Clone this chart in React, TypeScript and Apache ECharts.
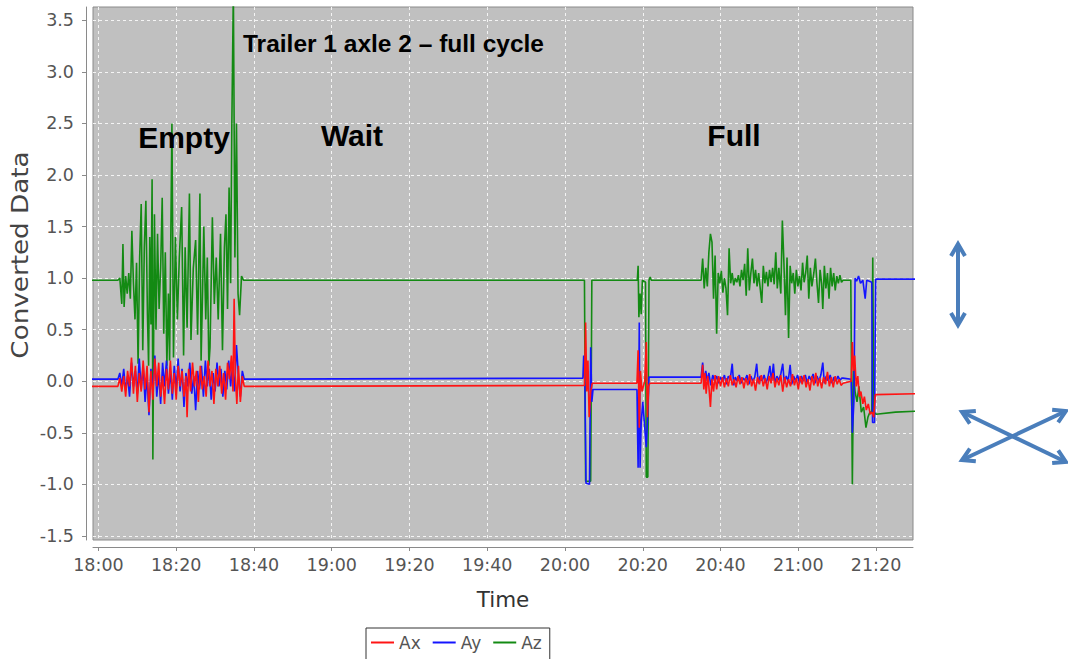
import React, { useEffect, useRef } from "react";
import * as echarts from "echarts";

// Time is stored in minutes after 18:00.
const X_MIN = -1.4;
const X_MAX = 209.5;
const Y_MIN = -1.54;
const Y_MAX = 3.63;

const TIME_TICKS = [0, 20, 40, 60, 80, 100, 120, 140, 160, 180, 200];
const VALUE_TICKS = [-1.5, -1.0, -0.5, 0.0, 0.5, 1.0, 1.5, 2.0, 2.5, 3.0, 3.5];

const SERIES_NAMES = ["Ax", "Ay", "Az"];
const SERIES_COLORS = ["#ff1414", "#1414ff", "#138a13"];

// Ax: [minute, value]
const AX: [number, number][] = [
  [-2, -0.05], [5.0, -0.05], [5.5, 0.03], [6.0, -0.1], [6.5, 0.05], [7.0, -0.15], [7.5, 0.1],
  [8.0, -0.05], [8.5, 0.23], [9.0, -0.12], [9.5, 0.15], [10.0, -0.2], [10.5, 0.08], [11.0, -0.1],
  [11.5, 0.2], [12.0, -0.08], [12.5, 0.15], [13.0, -0.3], [13.5, 0.1], [14.0, -0.18], [14.5, 0.22],
  [15.0, -0.05], [15.5, 0.18], [16.0, -0.15], [16.5, 0.05], [17.0, -0.22], [17.5, 0.12], [18.0, -0.08],
  [18.5, 0.2], [19.0, -0.12], [19.5, 0.08], [20.0, -0.18], [20.5, 0.15], [21.0, -0.05], [21.5, 0.1],
  [22.0, -0.15], [22.5, 0.05], [22.8, -0.35], [23.2, 0.12], [23.7, -0.1], [24.2, 0.18], [24.7, -0.05],
  [25.2, 0.1], [25.7, -0.2], [26.2, 0.15], [26.7, -0.08], [27.2, 0.05], [27.7, -0.15], [28.2, 0.2],
  [28.7, -0.05], [29.2, 0.1], [29.7, -0.22], [30.2, 0.12], [30.7, -0.05], [31.2, 0.15], [31.7, -0.12],
  [32.2, 0.08], [32.7, -0.18], [33.2, 0.18], [33.7, 0.02], [34.2, 0.25], [34.6, -0.1], [34.9, 0.8],
  [35.2, 0.05], [35.6, -0.22], [36.0, 0.15], [36.5, -0.2], [37.0, 0.05], [37.5, -0.05],
  [125.0, -0.04], [125.3, 0.57], [125.6, -0.1], [125.9, 0.2], [126.2, -0.35], [126.6, -0.1], [127.0, -0.02],
  [138.5, -0.02], [138.8, 0.3], [139.1, -0.45], [139.4, 0.1], [139.8, -0.1], [140.5, 0.0], [140.9, 0.38],
  [141.2, -0.35], [141.5, -0.05], [141.8, -0.02],
  [155.0, -0.02], [155.4, 0.16], [155.7, -0.08], [156.0, 0.08], [156.3, -0.12], [156.7, 0.05], [157.0, -0.05],
  [157.4, -0.25], [157.8, 0.02], [158.2, -0.1], [158.6, 0.06], [159.0, -0.08], [159.5, 0.05], [160.0, -0.05],
  [160.5, 0.04], [161.0, -0.06], [161.5, 0.03], [162.0, -0.05], [162.5, 0.06], [163.0, -0.04], [163.5, 0.02],
  [164.0, -0.06], [164.5, 0.05], [165.0, -0.03], [165.5, 0.04], [166.0, -0.07], [166.5, 0.03], [167.0, -0.04],
  [167.5, 0.07], [168.0, -0.05], [168.5, 0.02], [169.0, -0.09], [169.5, 0.04], [170.0, -0.03], [170.5, 0.06],
  [171.0, -0.05], [171.5, 0.03], [172.0, -0.08], [172.5, 0.05], [173.0, -0.02], [173.5, 0.08], [174.0, -0.06],
  [174.5, 0.03], [175.0, -0.04], [175.5, 0.06], [176.0, -0.1], [176.5, 0.04], [177.0, -0.06], [177.5, 0.02],
  [178.0, -0.05], [178.5, 0.07], [179.0, -0.04], [179.5, 0.03], [180.0, -0.08], [180.5, 0.05], [181.0, -0.03],
  [181.5, 0.06], [182.0, -0.06], [182.5, 0.02], [183.0, -0.09], [183.5, 0.05], [184.0, -0.04], [184.5, 0.08],
  [185.0, -0.05], [185.5, 0.03], [186.0, -0.07], [186.5, 0.04], [187.0, -0.03], [187.5, 0.09], [188.0, -0.05],
  [188.5, 0.04], [189.0, -0.06], [189.5, 0.05], [190.0, -0.03], [190.5, 0.02], [191.0, -0.04], [191.5, -0.02],
  [193.6, 0.0], [193.9, 0.38], [194.2, 0.1], [194.5, 0.25], [194.9, -0.05], [195.3, 0.05], [195.7, -0.15],
  [196.1, -0.1], [196.6, -0.22], [197.0, -0.15], [197.5, -0.28], [198.0, -0.22], [198.5, -0.32], [199.0, -0.3],
  [199.4, -0.35], [199.8, -0.13], [211, -0.12],
];

// Ay: [minute, value]
const AY: [number, number][] = [
  [-2, 0.02], [5.0, 0.02], [5.5, 0.08], [6.0, -0.05], [6.5, 0.12], [7.0, -0.09], [7.5, 0.05], [8.0, -0.15],
  [8.5, 0.18], [9.0, -0.05], [9.5, 0.1], [10.0, -0.12], [10.5, 0.22], [11.0, -0.08], [11.5, 0.15], [12.0, -0.2],
  [12.5, 0.05], [13.0, -0.33], [13.5, 0.12], [14.0, -0.1], [14.5, 0.25], [15.0, -0.15], [15.5, 0.08], [16.0, -0.22],
  [16.5, 0.18], [17.0, -0.05], [17.5, 0.2], [18.0, -0.12], [18.5, 0.1], [19.0, -0.18], [19.5, 0.15], [20.0, -0.08],
  [20.5, 0.22], [21.0, -0.1], [21.5, 0.12], [22.0, -0.25], [22.5, 0.08], [23.0, -0.05], [23.5, 0.18], [24.0, -0.12],
  [24.5, 0.05], [25.0, -0.28], [25.5, 0.1], [26.0, -0.08], [26.5, 0.15], [27.0, -0.15], [27.5, 0.2], [28.0, -0.05],
  [28.5, 0.12], [29.0, -0.18], [29.5, 0.08], [30.0, -0.1], [30.5, 0.18], [31.0, -0.05], [31.5, 0.12], [32.0, -0.15],
  [32.5, 0.1], [33.0, -0.08], [33.5, 0.2], [34.0, -0.05], [34.5, 0.15], [35.0, -0.1], [35.5, 0.35], [36.0, 0.05],
  [36.5, -0.15], [37.0, 0.1], [37.5, 0.02],
  [124.6, 0.03], [124.8, 0.25], [125.1, 0.0], [125.4, -0.99], [126.3, -1.0], [126.6, 0.33], [126.9, -0.2], [127.2, -0.08],
  [138.5, -0.08], [138.8, -0.84], [139.1, 0.57], [139.3, -0.84], [139.6, -0.4], [140.0, -0.2], [140.5, -0.45],
  [140.9, -0.64], [141.3, -0.3], [141.6, 0.04],
  [155.0, 0.04], [155.4, 0.18], [155.8, -0.02], [156.2, 0.1], [156.6, 0.0], [157.0, 0.08], [157.5, -0.04], [158.0, 0.06],
  [158.5, 0.0], [159.0, 0.05], [159.5, -0.02], [160.0, 0.04], [160.5, 0.0], [161.0, 0.06], [161.5, -0.03], [162.0, 0.05],
  [162.5, 0.02], [163.0, 0.17], [163.4, -0.04], [163.8, 0.04], [164.3, 0.0], [164.8, 0.06], [165.3, -0.02], [165.8, 0.03],
  [166.3, 0.01], [166.8, 0.06], [167.3, -0.03], [167.8, 0.05], [168.3, 0.0], [168.8, 0.04], [169.3, 0.17], [169.7, -0.02],
  [170.2, 0.05], [170.7, 0.0], [171.2, 0.06], [171.7, -0.02], [172.2, 0.04], [172.7, 0.15], [173.1, 0.0], [173.6, 0.17],
  [174.0, -0.03], [174.5, 0.05], [175.0, 0.01], [175.5, 0.07], [176.0, 0.17], [176.4, -0.02], [176.9, 0.05], [177.4, 0.0],
  [177.9, 0.16], [178.3, -0.03], [178.8, 0.05], [179.3, 0.0], [179.8, 0.06], [180.3, -0.02], [180.8, 0.05], [181.3, 0.0],
  [181.8, 0.06], [182.3, -0.02], [182.8, 0.05], [183.3, 0.01], [183.8, 0.07], [184.3, -0.02], [184.8, 0.05], [185.3, 0.0],
  [185.8, 0.06], [186.3, 0.18], [186.7, -0.02], [187.2, 0.05], [187.7, 0.0], [188.2, 0.06], [188.7, -0.02], [189.2, 0.04],
  [189.7, 0.0], [190.2, 0.05], [190.7, 0.01], [191.2, 0.03], [191.5, 0.03],
  [193.6, 0.02], [193.9, -0.5], [194.3, -0.2], [194.6, 1.0], [195.0, 0.97], [195.5, 1.02], [196.0, 0.95], [196.6, 0.98],
  [197.2, 0.8], [197.6, 0.98], [198.3, 0.97], [198.9, 0.96], [199.1, -0.4], [199.6, -0.4], [199.9, 0.99], [211, 0.99],
];

// Az: [minute, value]
const AZ: [number, number][] = [
  [-2, 0.98], [5.0, 0.98], [5.5, 1.0], [6.0, 0.75], [6.3, 1.33], [6.6, 0.72], [7.0, 1.02], [7.4, 0.85], [7.8, 1.05],
  [8.2, 0.8], [8.6, 1.46], [9.0, 0.95], [9.4, 0.6], [9.8, 1.15], [10.2, 0.17], [10.6, 1.2], [11.0, 1.72], [11.4, 0.3],
  [11.8, 1.3], [12.2, 1.75], [12.6, 0.65], [12.9, 0.15], [13.2, 1.4], [13.5, 0.55], [13.8, 1.96], [14.0, -0.76],
  [14.4, 1.62], [14.8, 0.5], [15.2, 1.43], [15.6, 0.7], [16.0, 1.1], [16.4, 1.78], [16.8, 0.46], [17.2, 1.25],
  [17.6, 0.15], [18.0, 0.85], [18.3, 0.2], [18.9, 2.5], [19.3, 0.23], [19.8, 1.4], [20.3, 0.6], [20.8, 1.2],
  [21.4, 1.69], [21.9, 0.25], [22.3, 1.3], [22.8, 0.52], [23.4, 1.82], [23.8, 0.4], [24.4, 1.1], [25.0, 1.37],
  [25.5, 0.45], [26.1, 1.82], [26.4, 0.2], [26.8, 0.9], [27.1, 1.5], [27.6, 0.6], [28.0, 1.2], [28.4, 0.15],
  [28.7, 0.33], [29.3, 1.59], [29.8, 0.75], [30.3, 1.2], [30.8, 0.6], [31.4, 1.43], [31.9, 0.3], [32.4, 1.3],
  [32.8, 1.62], [33.2, 0.7], [33.6, 1.88], [34.0, 0.95], [34.3, 2.46], [34.7, 3.8], [35.1, 1.2], [35.5, 2.5],
  [35.9, 0.85], [36.3, 0.64], [36.8, 1.02], [37.3, 0.98],
  [125.0, 0.98], [125.3, -0.97], [126.6, -0.97], [126.9, 0.98],
  [138.6, 0.98], [138.8, 1.12], [139.0, 0.62], [139.3, 0.85], [139.6, 0.65], [139.9, 0.98], [140.7, 0.96],
  [140.9, -0.93], [141.3, -0.93], [141.6, 0.98], [141.9, 1.01], [142.2, 0.98],
  [155.0, 0.98], [155.4, 1.19], [155.8, 0.9], [156.2, 1.1], [156.6, 0.92], [157.0, 1.25], [157.4, 1.43], [157.8, 1.35],
  [158.2, 0.8], [158.6, 1.22], [159.0, 0.46], [159.4, 1.05], [159.8, 0.95], [160.2, 1.07], [160.6, 0.86], [161.0, 1.0],
  [161.4, 0.9], [161.8, 0.64], [162.2, 1.29], [162.6, 0.95], [163.0, 1.05], [163.4, 0.93], [163.8, 1.0], [164.2, 0.96],
  [164.6, 1.03], [165.0, 0.92], [165.4, 1.08], [165.8, 0.98], [166.2, 1.14], [166.6, 0.83], [167.0, 1.29], [167.4, 0.88],
  [167.8, 1.05], [168.2, 1.19], [168.6, 0.95], [169.0, 1.08], [169.4, 0.92], [169.8, 1.05], [170.2, 0.9], [170.6, 0.76],
  [171.0, 1.12], [171.4, 0.95], [171.8, 1.06], [172.2, 0.92], [172.6, 1.08], [173.0, 0.96], [173.4, 1.1], [173.8, 0.94],
  [174.2, 1.25], [174.6, 0.9], [175.0, 1.1], [175.5, 0.85], [175.9, 1.56], [176.3, 1.15], [176.7, 0.64], [177.1, 1.2],
  [177.5, 0.42], [177.9, 1.12], [178.3, 0.95], [178.7, 1.05], [179.1, 0.85], [179.5, 1.08], [179.9, 0.92], [180.3, 1.02],
  [180.7, 0.88], [181.1, 1.15], [181.5, 0.96], [181.9, 1.05], [182.3, 1.22], [182.7, 0.8], [183.1, 1.1], [183.5, 0.92],
  [184.0, 1.05], [184.4, 1.19], [184.8, 0.95], [185.2, 0.76], [185.6, 1.08], [186.0, 0.95], [186.3, 0.7], [186.7, 1.12],
  [187.1, 0.9], [187.5, 1.05], [187.9, 0.8], [188.3, 1.1], [188.7, 0.92], [189.1, 1.05], [189.5, 0.88], [189.9, 1.02],
  [190.3, 0.95], [190.7, 1.03], [191.1, 0.96], [191.5, 0.98],
  [193.5, 0.98], [193.9, -1.0], [194.2, 0.1], [194.6, -0.1], [195.1, -0.2], [195.6, -0.05], [196.2, -0.3], [196.8, -0.25],
  [197.4, -0.45], [197.9, -0.35], [198.4, -0.3], [198.9, -0.3], [199.15, 1.2], [199.4, -0.3], [200.0, -0.32],
  [205, -0.3], [211, -0.29],
];

const SERIES_DATA = [AX, AY, AZ];

const PHASE_LABELS = ["Empty", "Wait", "Full"];
const CHART_CAPTION = "Trailer 1 axle 2 \u2013 full cycle";
const Y_TITLE = "Converted Data";
const X_TITLE = "Time";

function formatClock(m: number): string {
  const r = Math.round(m);
  if (Math.abs(m - r) > 1e-6 || r % 20 !== 0) return "";
  const h = 18 + Math.floor(r / 60);
  const mm = r % 60;
  return `${h}:${mm < 10 ? "0" + mm : mm}`;
}

function formatValue(v: number): string {
  const r = Math.round(v * 2) / 2;
  if (Math.abs(v - r) > 1e-6) return "";
  return r.toFixed(1);
}

const ARROW_COLOR = "#4a7ebb";

// Double-headed arrow: a shaft plus an open chevron at each end.
function doubleArrow(x1: number, y1: number, x2: number, y2: number) {
  const dx = x2 - x1;
  const dy = y2 - y1;
  const len = Math.sqrt(dx * dx + dy * dy);
  const ux = dx / len;
  const uy = dy / len;
  const px = -uy;
  const py = ux;
  const back = 12;
  const side = 7;
  const style = { stroke: ARROW_COLOR, lineWidth: 4, fill: null, lineJoin: "miter" };
  return [
    { type: "line", shape: { x1, y1, x2, y2 }, style: { stroke: ARROW_COLOR, lineWidth: 4 } },
    {
      type: "polyline",
      shape: {
        points: [
          [x1 + ux * back + px * side, y1 + uy * back + py * side],
          [x1, y1],
          [x1 + ux * back - px * side, y1 + uy * back - py * side],
        ],
      },
      style,
    },
    {
      type: "polyline",
      shape: {
        points: [
          [x2 - ux * back + px * side, y2 - uy * back + py * side],
          [x2, y2],
          [x2 - ux * back - px * side, y2 - uy * back - py * side],
        ],
      },
      style,
    },
  ];
}

export default function App() {
  const ref = useRef<HTMLDivElement>(null);

  useEffect(() => {
    if (!ref.current) return;
    const chart = echarts.init(ref.current, undefined, { renderer: "svg" });

    const labelFont = "Liberation Sans";
    const option: any = {
      animation: false,
      backgroundColor: "#ffffff",
      grid: {
        left: 93,
        right: 155,
        top: 7,
        bottom: 119,
        show: true,
        backgroundColor: "#c0c0c0",
        borderColor: "#8a8a8a",
        borderWidth: 1,
      },
      legend: {
        data: SERIES_NAMES,
        left: 366,
        top: 628,
        icon: "rect",
        itemWidth: 23,
        itemHeight: 2,
        itemGap: 12,
        borderColor: "#333333",
        borderWidth: 1,
        padding: [6, 8, 12, 5],
        textStyle: { fontFamily: "DejaVu Sans", fontSize: 17, color: "#555555" },
      },
      xAxis: {
        type: "value",
        min: X_MIN,
        max: X_MAX,
        splitNumber: 10,
        minInterval: 20,
        maxInterval: 20,
        offset: 7,
        name: X_TITLE,
        nameLocation: "middle",
        nameGap: 41,
        nameTextStyle: { fontFamily: "DejaVu Sans", fontSize: 21.5, color: "#333333" },
        axisLine: { show: true, onZero: false, lineStyle: { color: "#8a8a8a", width: 1 } },
        axisTick: { show: true, length: 4, lineStyle: { color: "#8a8a8a" }, customValues: TIME_TICKS },
        axisLabel: {
          formatter: formatClock,
          customValues: TIME_TICKS,
          color: "#555555",
          fontFamily: "DejaVu Sans",
          fontSize: 17.5,
          margin: 9,
        },
        splitLine: { show: true, lineStyle: { color: "#f4f4f4", type: [3, 3], width: 1 } },
      },
      yAxis: {
        type: "value",
        min: Y_MIN,
        max: Y_MAX,
        splitNumber: 10,
        minInterval: 0.5,
        maxInterval: 0.5,
        offset: 7,
        axisLine: { show: true, onZero: false, lineStyle: { color: "#8a8a8a", width: 1 } },
        axisTick: { show: true, length: 4, lineStyle: { color: "#8a8a8a" }, customValues: VALUE_TICKS },
        axisLabel: {
          formatter: formatValue,
          customValues: VALUE_TICKS,
          color: "#555555",
          fontFamily: "DejaVu Sans",
          fontSize: 17.5,
          margin: 12,
        },
        splitLine: { show: true, lineStyle: { color: "#f4f4f4", type: [3, 3], width: 1 } },
      },
      series: SERIES_NAMES.map((name, i) => ({
        name,
        type: "line",
        data: SERIES_DATA[i],
        showSymbol: false,
        symbol: "none",
        clip: true,
        z: 4 - i,
        color: SERIES_COLORS[i],
        lineStyle: { color: SERIES_COLORS[i], width: 1.6 },
      })),
      graphic: [
        {
          type: "text",
          x: 20,
          y: 255,
          rotation: Math.PI / 2,
          scaleX: 1.14,
          style: {
            text: Y_TITLE,
            font: "23px 'DejaVu Sans'",
            fill: "#444444",
            align: "center",
            verticalAlign: "middle",
          },
        },
        {
          type: "text",
          x: 243,
          y: 43,
          style: {
            text: CHART_CAPTION,
            font: `bold 24.5px '${labelFont}'`,
            fill: "#000000",
            align: "left",
            verticalAlign: "middle",
          },
          z: 100,
        },
        {
          type: "text",
          x: 184,
          y: 137,
          style: { text: PHASE_LABELS[0], font: `bold 30px '${labelFont}'`, fill: "#000000", align: "center", verticalAlign: "middle" },
          z: 100,
        },
        {
          type: "text",
          x: 352,
          y: 135,
          style: { text: PHASE_LABELS[1], font: `bold 30px '${labelFont}'`, fill: "#000000", align: "center", verticalAlign: "middle" },
          z: 100,
        },
        {
          type: "text",
          x: 734,
          y: 135,
          style: { text: PHASE_LABELS[2], font: `bold 30px '${labelFont}'`, fill: "#000000", align: "center", verticalAlign: "middle" },
          z: 100,
        },
        {
          type: "group",
          z: 100,
          children: [
            ...doubleArrow(958, 244, 958, 325),
            ...doubleArrow(962, 412, 1066, 462),
            ...doubleArrow(962, 460, 1066, 411),
          ],
        },
      ],
    };

    chart.setOption(option);
    return () => chart.dispose();
  }, []);

  return (
    <div
      ref={ref}
      style={{ position: "fixed", left: 0, top: 0, width: 1068, height: 659, background: "#ffffff" }}
    />
  );
}
